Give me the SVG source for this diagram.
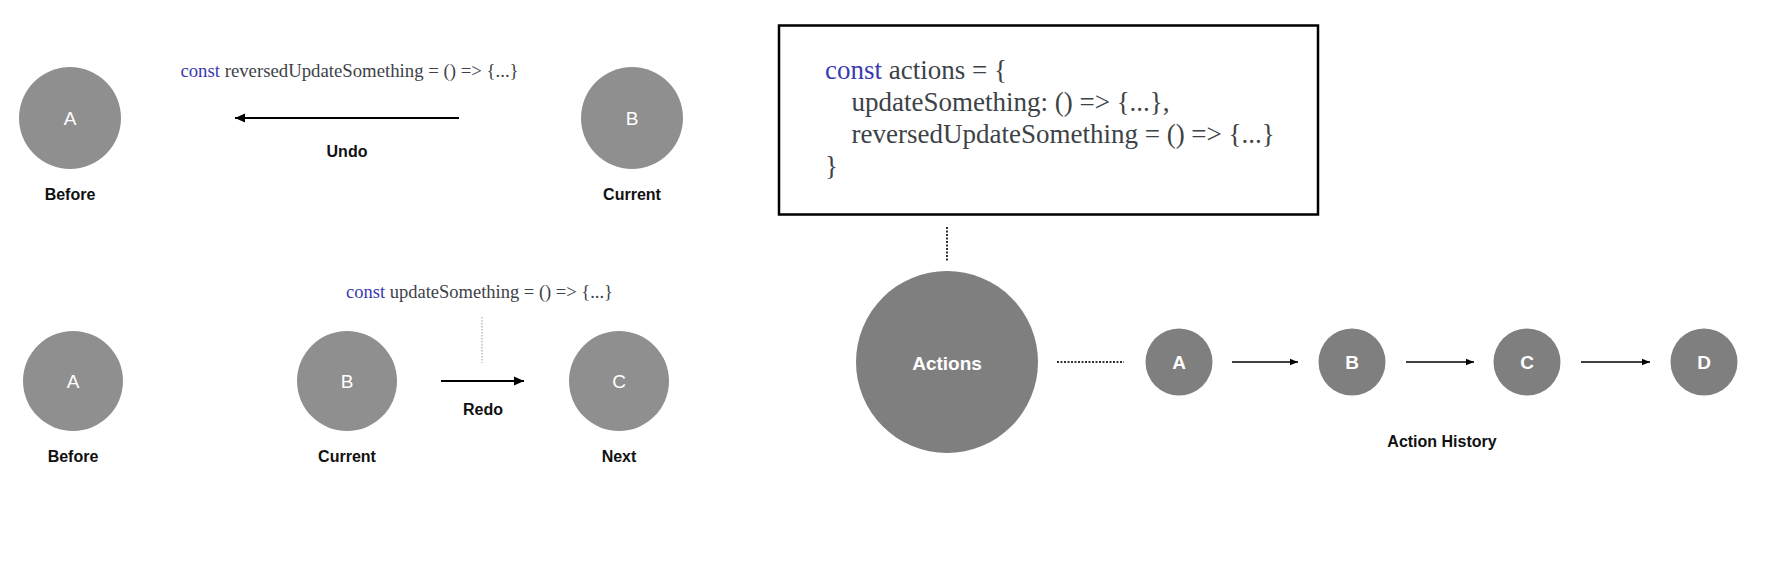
<svg xmlns="http://www.w3.org/2000/svg" width="1779" height="573" viewBox="0 0 1779 573">
<style>
  .lt { fill: #8f8f8f; }
  .dk { fill: #7f7f7f; }
  .lbl { font-family: "Liberation Sans", Arial, sans-serif; font-weight: bold; font-size: 16px; fill: #111; text-anchor: middle; }
  .inl { font-family: "Liberation Sans", Arial, sans-serif; font-size: 19px; fill: #fff; text-anchor: middle; }
  .inb { font-family: "Liberation Sans", Arial, sans-serif; font-weight: bold; font-size: 19px; fill: #fff; text-anchor: middle; }
  .code { font-family: "Liberation Serif", "Times New Roman", serif; fill: #3d4247; }
  .kw { fill: #3a3ab0; }
  .arrow { stroke: #000; fill: none; }
</style>
<defs>
  <marker id="ahBig" markerUnits="userSpaceOnUse" markerWidth="12" markerHeight="10" refX="10" refY="5" orient="auto">
    <path d="M0,0.5 L10,5 L0,9.5 Z" fill="#000"/>
  </marker>
  <marker id="ahSmall" markerUnits="userSpaceOnUse" markerWidth="9" markerHeight="8" refX="8" refY="4" orient="auto">
    <path d="M0,0.8 L8,4 L0,7.2 Z" fill="#000"/>
  </marker>
</defs>

<!-- Undo section -->
<g id="undo-before">
  <circle class="lt" cx="70" cy="118" r="51"/>
  <text class="inl" x="70" y="125">A</text>
  <text class="lbl" x="70" y="200">Before</text>
</g>
<g id="undo-current">
  <circle class="lt" cx="632" cy="118" r="51"/>
  <text class="inl" x="632" y="125">B</text>
  <text class="lbl" x="632" y="200">Current</text>
</g>
<g id="undo-code">
  <text class="code" x="349.5" y="77" font-size="18.75" text-anchor="middle"><tspan class="kw">const</tspan> reversedUpdateSomething = () =&gt; {...}</text>
</g>

<!-- Redo section -->
<g id="redo-before">
  <circle class="lt" cx="73" cy="381" r="50"/>
  <text class="inl" x="73" y="388">A</text>
  <text class="lbl" x="73" y="462">Before</text>
</g>
<g id="redo-current">
  <circle class="lt" cx="347" cy="381" r="50"/>
  <text class="inl" x="347" y="388">B</text>
  <text class="lbl" x="347" y="462">Current</text>
</g>
<g id="redo-next">
  <circle class="lt" cx="619" cy="381" r="50"/>
  <text class="inl" x="619" y="388">C</text>
  <text class="lbl" x="619" y="462">Next</text>
</g>
<g id="redo-code">
  <text class="code" x="479.5" y="298" font-size="18.5" text-anchor="middle"><tspan class="kw">const</tspan> updateSomething = () =&gt; {...}</text>
</g>

<!-- Actions section -->
<g id="actions-box">
  <rect x="779" y="25.5" width="539" height="189" fill="#fff" stroke="#000" stroke-width="2.5"/>
  <text class="code" font-size="27">
    <tspan x="825" y="79"><tspan class="kw">const</tspan> actions = {</tspan>
    <tspan x="851.5" y="111">updateSomething: () =&gt; {...},</tspan>
    <tspan x="851.5" y="143">reversedUpdateSomething = () =&gt; {...}</tspan>
    <tspan x="825" y="175">}</tspan>
  </text>
</g>
<g id="actions">
  <circle class="dk" cx="947" cy="362" r="91"/>
  <text class="inb" x="947" y="370" font-size="20">Actions</text>
</g>
<g id="hist-a">
  <circle class="dk" cx="1179" cy="362" r="33.5"/>
  <text class="inb" x="1179" y="369">A</text>
</g>
<g id="hist-b">
  <circle class="dk" cx="1352" cy="362" r="33.5"/>
  <text class="inb" x="1352" y="369">B</text>
</g>
<g id="hist-c">
  <circle class="dk" cx="1527" cy="362" r="33.5"/>
  <text class="inb" x="1527" y="369">C</text>
</g>
<g id="hist-d">
  <circle class="dk" cx="1704" cy="362" r="33.5"/>
  <text class="inb" x="1704" y="369">D</text>
</g>
<g id="history-label">
  <text class="lbl" x="1442" y="447">Action History</text>
</g>

<!-- Connectors -->
<g id="connectors">
  <line class="arrow" x1="459" y1="118" x2="235" y2="118" stroke-width="2" marker-end="url(#ahBig)"/>
  <text class="lbl" x="347" y="157">Undo</text>
  <line class="arrow" x1="441" y1="381" x2="524" y2="381" stroke-width="2" marker-end="url(#ahBig)"/>
  <text class="lbl" x="483" y="415">Redo</text>
  <line x1="482" y1="317" x2="482" y2="363" stroke="#999" stroke-width="1" stroke-dasharray="1.5,1.5"/>
  <line x1="947" y1="227" x2="947" y2="262" stroke="#333" stroke-width="2" stroke-dasharray="2,1.5"/>
  <line x1="1057" y1="362" x2="1124" y2="362" stroke="#333" stroke-width="2" stroke-dasharray="2,1.5"/>
  <line class="arrow" x1="1232" y1="362" x2="1298" y2="362" stroke-width="1.5" marker-end="url(#ahSmall)"/>
  <line class="arrow" x1="1406" y1="362" x2="1474" y2="362" stroke-width="1.5" marker-end="url(#ahSmall)"/>
  <line class="arrow" x1="1581" y1="362" x2="1650" y2="362" stroke-width="1.5" marker-end="url(#ahSmall)"/>
</g>
</svg>
